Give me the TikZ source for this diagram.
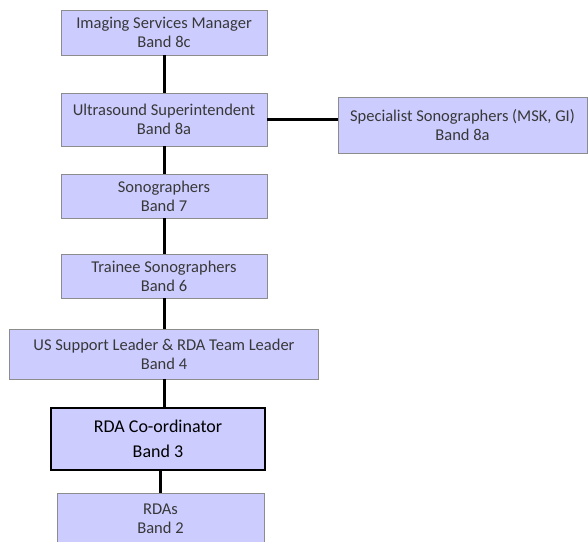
\documentclass[tikz,border=0pt]{standalone}
\usepackage{fontspec}
\setmainfont{Carlito}
\usetikzlibrary{positioning}
\definecolor{bandfill}{HTML}{CCCCFF}
\definecolor{bandedge}{HTML}{8C8C8C}
\definecolor{bandtext}{HTML}{383838}
\tikzset{
  bandbox/.style={draw=bandedge,line width=0.8pt,fill=bandfill,text=bandtext,
    align=center,inner sep=0pt,
    font=\fontsize{16.5}{19}\selectfont},
  keybox/.style={bandbox,draw=black,line width=1.1pt,text=black,
    font=\fontsize{18}{25}\selectfont},
  link/.style={line width=3pt}
}

\begin{document}
\begin{tikzpicture}[x=1pt,y=-1pt]
  \useasboundingbox (0,0) rectangle (588,541);
  % Reporting line, top to bottom
  \node[bandbox,minimum width=206pt,minimum height=45pt] (ism) at (164,32.5)
    {Imaging Services Manager\\Band 8c};
  \node[bandbox,minimum width=206pt,minimum height=53pt] (uss) at (164,119.5)
    {Ultrasound Superintendent\\Band 8a};
  \node[bandbox,minimum width=249pt,minimum height=56pt] (spec) at (462.5,125)
    {Specialist Sonographers (MSK, GI)\\Band 8a};
  \node[bandbox,minimum width=206pt,minimum height=44pt] (sono) at (164,196)
    {Sonographers\\Band 7};
  \node[bandbox,minimum width=206pt,minimum height=44pt] (trainee) at (164,276)
    {Trainee Sonographers\\Band 6};
  \node[bandbox,minimum width=309pt,minimum height=50pt] (support) at (164,354)
    {US Support Leader \& RDA Team Leader\\Band 4};
  \node[keybox,minimum width=214pt,minimum height=62pt] (coord) at (158,439)
    {RDA Co-ordinator\\Band 3};
  \node[bandbox,minimum width=207pt,minimum height=52pt] (rdas) at (160.5,519)
    {RDAs\\Band 2};
  % Connectors
  \draw[link] (ism) -- (uss);
  \draw[link] (uss.east) -- (uss.east -| spec.west);
  \draw[link] (uss) -- (sono);
  \draw[link] (sono) -- (trainee);
  \draw[link] (trainee) -- (support);
  \draw[link] (support.south) -- (support.south |- coord.north);
  \draw[link] (rdas.north |- coord.south) -- (rdas.north);
\end{tikzpicture}
\end{document}
